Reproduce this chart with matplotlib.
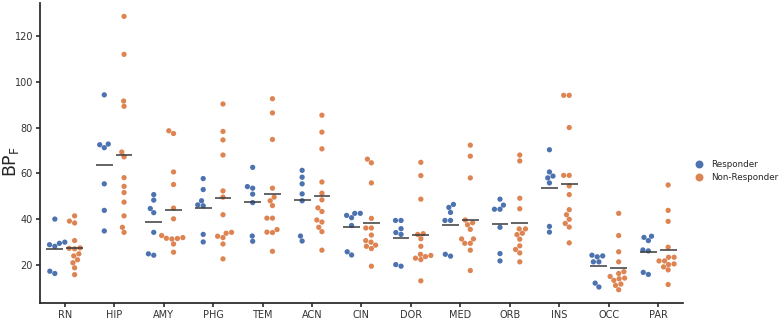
import matplotlib
matplotlib.use("Agg")
import matplotlib.pyplot as plt
import seaborn as sns
import pandas as pd

regions = ["RN", "HIP", "AMY", "PHG", "TEM", "ACN", "CIN", "DOR", "MED", "ORB", "INS", "OCC", "PAR"]
groups = ["Responder", "Non-Responder"]

# BP_F per region, one list per region
responder = [
    [40.0, 29.9, 29.4, 28.8, 28.1, 17.2, 16.2],
    [94.3, 72.5, 71.2, 72.8, 55.4, 43.8, 34.8],
    [50.7, 48.3, 44.6, 42.8, 34.2, 24.8, 24.2],
    [57.7, 52.9, 48.0, 46.2, 45.8, 33.3, 30.0],
    [62.6, 54.2, 53.5, 50.9, 47.2, 32.6, 30.3],
    [61.3, 58.3, 55.4, 51.0, 48.0, 32.6, 30.4],
    [42.5, 42.5, 41.6, 40.6, 37.2, 25.7, 24.3],
    [39.4, 39.4, 35.8, 34.1, 33.3, 20.1, 19.4],
    [46.4, 45.1, 42.9, 39.4, 39.4, 24.6, 23.8],
    [48.7, 46.1, 44.3, 44.3, 36.4, 24.9, 21.7],
    [70.3, 60.6, 58.8, 58.0, 55.8, 36.8, 34.3],
    [23.9, 23.5, 24.2, 21.3, 21.3, 12.0, 10.3],
    [32.5, 32.0, 30.6, 26.5, 26.1, 16.7, 15.8],
]
non_responder = [
    [41.4, 39.1, 38.3, 30.6, 27.4, 27.2, 27.0, 24.8, 23.9, 22.2, 20.9, 18.7, 15.7],
    [128.6, 112.0, 91.6, 89.3, 69.3, 67.2, 58.1, 54.3, 51.6, 47.4, 41.4, 36.4, 34.2],
    [78.6, 77.4, 60.6, 55.1, 44.8, 40.1, 32.8, 31.9, 31.3, 31.6, 31.5, 29.1, 25.5],
    [90.3, 78.3, 74.6, 68.0, 52.3, 49.6, 41.9, 34.2, 33.8, 32.5, 31.9, 29.1, 22.6],
    [92.6, 86.4, 74.8, 53.5, 49.6, 48.0, 45.9, 40.4, 40.4, 34.3, 34.1, 35.4, 25.9],
    [85.4, 78.0, 70.7, 56.2, 51.3, 48.4, 44.9, 43.3, 39.6, 38.7, 36.4, 34.5, 26.4],
    [66.2, 64.6, 55.8, 40.3, 36.1, 36.1, 33.0, 30.6, 29.9, 28.1, 28.6, 27.1, 19.4],
    [64.8, 59.0, 48.7, 33.6, 33.3, 31.4, 28.1, 24.6, 24.1, 23.6, 22.9, 22.3, 13.0],
    [72.3, 67.5, 58.0, 39.6, 38.4, 37.5, 35.5, 31.3, 31.3, 29.4, 29.4, 26.4, 17.5],
    [68.0, 65.4, 49.1, 44.5, 35.7, 35.7, 33.8, 33.2, 31.2, 28.3, 26.7, 25.2, 21.3],
    [94.1, 94.1, 80.0, 59.1, 59.1, 54.5, 50.7, 44.1, 41.9, 39.9, 38.1, 36.5, 29.6],
    [42.5, 32.8, 25.7, 21.3, 17.0, 16.2, 14.9, 14.2, 13.9, 13.2, 11.6, 11.0, 9.1],
    [54.9, 43.8, 39.0, 27.7, 23.3, 23.3, 21.7, 21.7, 20.4, 20.1, 19.1, 17.8, 11.4],
]

rows = []
for reg, r_vals, n_vals in zip(regions, responder, non_responder):
    for v in r_vals:
        rows.append((reg, "Responder", v))
    for v in n_vals:
        rows.append((reg, "Non-Responder", v))
df = pd.DataFrame(rows, columns=["region", "group", "BP"])

sns.set_theme(style="ticks")
fig = plt.figure(figsize=(7.81, 3.21), dpi=100)
ax = fig.add_axes([0.0512, 0.056, 0.8233, 0.935])

sns.swarmplot(data=df, x="region", y="BP", hue="group", order=regions,
              hue_order=groups, dodge=True, size=3.8, palette="deep", ax=ax)

# mean line for each group
means = df.groupby(["region", "group"])["BP"].mean()
for i, reg in enumerate(regions):
    for j, g in enumerate(groups):
        xc = i + (-0.2 if j == 0 else 0.2)
        ax.hlines(means[(reg, g)], xc - 0.17, xc + 0.17, color="#3a3a3a", lw=1.1, zorder=5)

ax.set_ylim(3.3, 134.5)
ax.set_xlim(-0.5, len(regions) - 0.5)
ax.set_yticks([20, 40, 60, 80, 100, 120])
ax.set_xlabel("")
ax.set_ylabel("BP$_\\mathregular{F}$", fontsize=12.5)
ax.yaxis.set_label_coords(-0.03, 0.47)
ax.tick_params(labelsize=7, colors="#333333", length=3, pad=2)
sns.despine(ax=ax)

leg = ax.legend(loc="center left", bbox_to_anchor=(1.003, 0.44), frameon=False,
                fontsize=6.3, markerscale=1.5, handletextpad=0.4, borderaxespad=0.2)

plt.savefig("out.png", dpi=100)
plt.close()
